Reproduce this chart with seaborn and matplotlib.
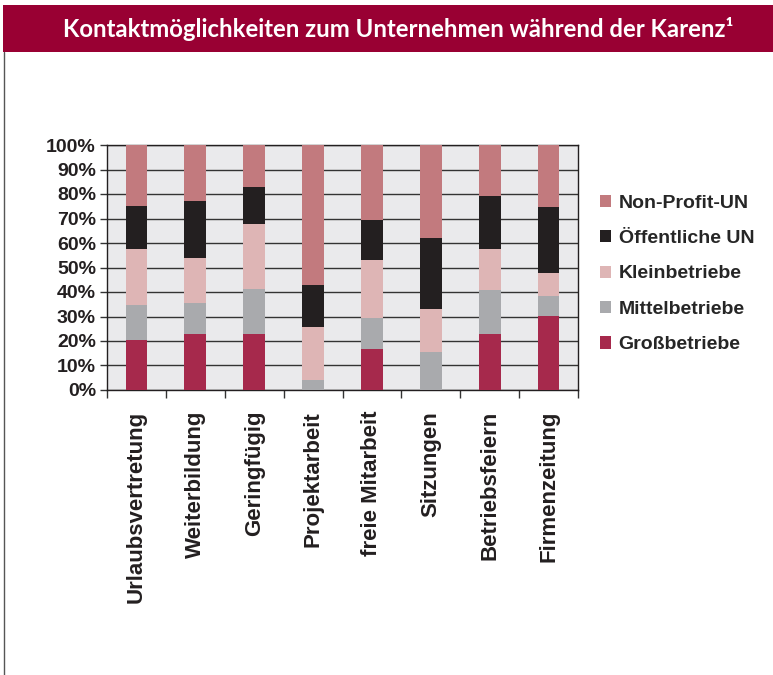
import matplotlib
matplotlib.use("Agg")
import numpy as np
import pandas as pd
import matplotlib.pyplot as plt
import seaborn as sns
from matplotlib.patches import Rectangle, Patch
from matplotlib.lines import Line2D

# -----------------------------
# Data (percent shares per contact option)
# -----------------------------
categories = ["Urlaubsvertretung", "Weiterbildung", "Geringfügig", "Projektarbeit",
              "freie Mitarbeit", "Sitzungen", "Betriebsfeiern", "Firmenzeitung"]
gross = [20.5, 22.9, 22.9, 0.0, 16.7, 0.0, 22.9, 30.2]
mittel = [14.2, 12.6, 18.3, 4.1, 12.7, 15.5, 17.9, 8.2]
klein = [22.9, 18.4, 26.6, 21.6, 23.7, 17.6, 16.8, 9.4]
oeffentlich = [17.5, 23.2, 15.1, 17.2, 16.3, 28.9, 21.6, 26.9]
nonprofit = [24.9, 22.9, 17.1, 57.1, 30.6, 38.0, 20.8, 25.3]

series_names = ["Großbetriebe", "Mittelbetriebe", "Kleinbetriebe", "Öffentliche UN", "Non-Profit-UN"]
series_colors = ["#A6294C", "#A9AAAD", "#DEB5B5", "#231F20", "#C27A7E"]

df = pd.DataFrame({"Kategorie": categories, "Großbetriebe": gross, "Mittelbetriebe": mittel,
                   "Kleinbetriebe": klein, "Öffentliche UN": oeffentlich, "Non-Profit-UN": nonprofit})
cum = df[series_names].cumsum(axis=1)
cum["Kategorie"] = df["Kategorie"]

# -----------------------------
# Figure + frame
# -----------------------------
sns.set_style("white")
plt.rcParams["font.family"] = ["Liberation Sans", "DejaVu Sans"]

W, H = 773, 675
fig = plt.figure(figsize=(W / 100, H / 100), dpi=100)
fig.patch.set_facecolor("white")

# header band
fig.patches.append(Rectangle((3 / W, 1 - 52 / H), 1 - 3 / W, 47 / H, transform=fig.transFigure,
                             facecolor="#990033", edgecolor="none", zorder=0))
fig.lines.append(Line2D([4 / W, 4 / W], [0, 1 - 52 / H], transform=fig.transFigure,
                        color="#555555", lw=1.0))
fig.text(398 / W, 1 - 29 / H, "Kontaktmöglichkeiten zum Unternehmen während der Karenz¹",
         ha="center", va="center", color="white", fontsize=17.2, fontweight="bold",
         family=["Lato", "DejaVu Sans"])

ax = fig.add_axes([107 / W, 1 - 390 / H, (578 - 107) / W, (390 - 145) / H])
ax.set_facecolor("#EAEAEC")

# stacked bars: draw cumulative totals from top layer down
for name, color in zip(series_names[::-1], series_colors[::-1]):
    sns.barplot(data=cum, x="Kategorie", y=name, color=color, width=0.37,
                saturation=1, ax=ax, zorder=3, linewidth=0)

ax.set_ylim(0, 100)
ax.set_xlim(-0.5, len(categories) - 0.5)
ax.set_yticks(np.arange(0, 101, 10))
ax.set_yticklabels([f"{v}%" for v in range(0, 101, 10)], fontsize=14, fontweight="bold", color="#231F20")
ax.yaxis.grid(True, color="#333333", lw=1.0, zorder=1)
ax.set_axisbelow(True)
ax.tick_params(axis="y", length=5, width=1, color="#333333", direction="out", left=True, pad=3)

ax.set_xticks(range(len(categories)))
ax.set_xticklabels(categories, rotation=90, fontsize=16, fontweight="bold", color="#231F20")
ax.set_xticks(np.arange(-0.5, len(categories), 1), minor=True)
ax.tick_params(axis="x", which="major", length=0, pad=15)
ax.tick_params(axis="x", which="minor", length=6, width=1, color="#333333", direction="out", bottom=True)
ax.set_xlabel("")
ax.set_ylabel("")
for sp in ax.spines.values():
    sp.set_color("#231F20")
    sp.set_linewidth(1.0)

# legend
handles = [Patch(facecolor=c, edgecolor="none", label=n)
           for n, c in zip(series_names[::-1], series_colors[::-1])]
fig.legend(handles=handles, loc="upper left", bbox_to_anchor=(582 / W, 1 - 177 / H),
           frameon=False, prop={"weight": "bold", "size": 14},
           handlelength=0.58, handleheight=0.58, handletextpad=0.4, labelspacing=0.95)

plt.savefig("out.png", dpi=100, facecolor="white")
